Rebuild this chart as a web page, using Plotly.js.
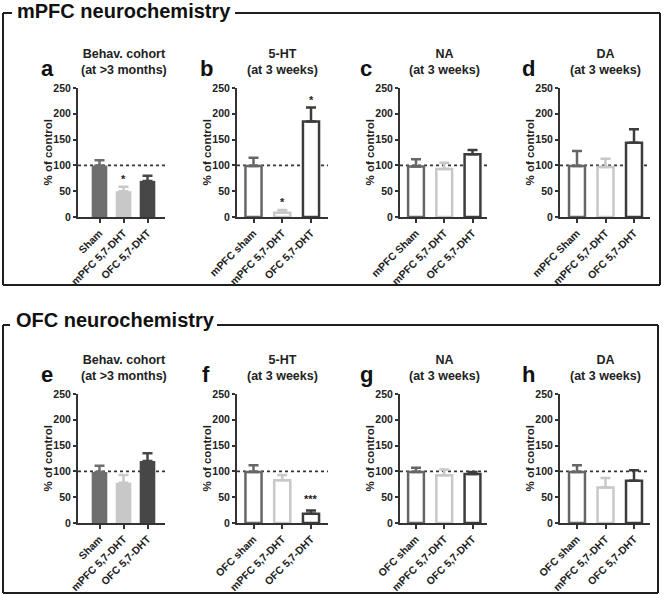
<!DOCTYPE html>
<html>
<head>
<meta charset="utf-8">
<script src="https://cdn.plot.ly/plotly-3.0.1.min.js"></script>
<style>html,body{margin:0;padding:0;background:#fff;}#chart{width:666px;height:595px;}</style>
</head>
<body>
<div id="chart"></div>
<script>
// ---------- DATA ----------
const catsBehav    = ["Sham", "mPFC 5,7-DHT", "OFC 5,7-DHT"];
const catsMpfc5ht  = ["mPFC sham", "mPFC 5,7-DHT", "OFC 5,7-DHT"];
const catsMpfcNaDa = ["mPFC Sham", "mPFC 5,7-DHT", "OFC 5,7-DHT"];
const catsOfc      = ["OFC sham", "mPFC 5,7-DHT", "OFC 5,7-DHT"];

const mpfcBehav    = [100, 50, 70];
const mpfcBehavErr = [10, 8.5, 10];
const mpfc5ht      = [99, 8, 185];
const mpfc5htErr   = [16, 5.5, 27];
const mpfcNA       = [98, 93, 121.5];
const mpfcNAErr    = [14, 12, 8.5];
const mpfcDA       = [99, 97, 144];
const mpfcDAErr    = [29, 16, 26];

const ofcBehav     = [99, 78, 120];
const ofcBehavErr  = [12, 15, 15];
const ofc5ht       = [99, 83, 18];
const ofc5htErr    = [13, 10, 6];
const ofcNA        = [99, 92.5, 95];
const ofcNAErr     = [8, 11, 4];
const ofcDA        = [99, 69, 82];
const ofcDAErr     = [13, 18, 20];

const panelLetters = ["a","b","c","d","e","f","g","h"];
const titlesTop = ["Behav. cohort", "5-HT", "NA", "DA"];
const titlesSub = ["(at &gt;3 months)", "(at 3 weeks)", "(at 3 weeks)", "(at 3 weeks)"];
const sectionTitles = ["mPFC neurochemistry", "OFC neurochemistry"];
const yTitle = "% of control";
const yTicks = [0, 50, 100, 150, 200, 250];
const refLine = 100;

// significance markers: [panel index, category index, text, value]
const sigPanel = [0, 1, 1, 5];
const sigCat   = [1, 1, 2, 2];
const sigText  = ["*", "*", "*", "***"];
const sigVal   = [79, 35, 232, 52];

// ---------- LAYOUT HELPERS ----------
const W = 666, H = 595;
const px = v => v / W;
const py = v => 1 - v / H;

const cols = [
  {x0: 78,  x1: 165, c0: 99.5,  sp: 24,    bw: 0.65},
  {x0: 237, x1: 328, c0: 253.5, sp: 28.75, bw: 0.56},
  {x0: 400, x1: 487, c0: 416,   sp: 28.25, bw: 0.56},
  {x0: 560, x1: 650, c0: 577,   sp: 28.5,  bw: 0.56}
];
const rows = [{top: 88, bot: 217}, {top: 394, bot: 523}];

const panels = [
  {cats: catsBehav,    vals: mpfcBehav, errs: mpfcBehavErr, filled: true},
  {cats: catsMpfc5ht,  vals: mpfc5ht,   errs: mpfc5htErr,   filled: false},
  {cats: catsMpfcNaDa, vals: mpfcNA,    errs: mpfcNAErr,    filled: false},
  {cats: catsMpfcNaDa, vals: mpfcDA,    errs: mpfcDAErr,    filled: false},
  {cats: catsBehav,    vals: ofcBehav,  errs: ofcBehavErr,  filled: true},
  {cats: catsOfc,      vals: ofc5ht,    errs: ofc5htErr,    filled: false},
  {cats: catsOfc,      vals: ofcNA,     errs: ofcNAErr,     filled: false},
  {cats: catsOfc,      vals: ofcDA,     errs: ofcDAErr,     filled: false}
];

const fillCols = ["#6e6e6e", "#c8c8c8", "#474747"];
const lineCols = ["#666666", "#c8c8c8", "#3c3c3c"];
const axisCol = "#333333";
const FONT = "Arial, 'Liberation Sans', Helvetica, sans-serif";

const traces = [];
const layout = {
  width: W, height: H,
  margin: {l: 0, r: 0, t: 0, b: 0},
  paper_bgcolor: "#ffffff", plot_bgcolor: "rgba(0,0,0,0)",
  showlegend: false, barmode: "overlay",
  font: {family: FONT, color: "#222"},
  shapes: [], annotations: []
};

panels.forEach((p, i) => {
  const col = cols[i % 4], row = rows[Math.floor(i / 4)];
  const n = i + 1;
  const xa = n === 1 ? "x" : "x" + n;
  const ya = n === 1 ? "y" : "y" + n;
  const xKey = n === 1 ? "xaxis" : "xaxis" + n;
  const yKey = n === 1 ? "yaxis" : "yaxis" + n;

  p.cats.forEach((c, k) => {
    traces.push({
      type: "bar", x: [c], y: [p.vals[k]], xaxis: xa, yaxis: ya,
      width: col.bw,
      marker: {
        color: p.filled ? fillCols[k] : "#ffffff",
        line: {color: p.filled ? fillCols[k] : lineCols[k], width: p.filled ? 0 : 2.5}
      },
      error_y: {type: "data", symmetric: false, array: [p.errs[k]], arrayminus: [0],
        color: p.filled ? fillCols[k] : lineCols[k], thickness: 2.5, width: 5},
      hoverinfo: "skip"
    });
  });

  layout[xKey] = {
    domain: [px(col.x0), px(col.x1)], anchor: ya, type: "category",
    categoryorder: "array", categoryarray: p.cats,
    range: [(col.x0 - col.c0) / col.sp, (col.x1 - col.c0) / col.sp],
    showline: true, linecolor: axisCol, linewidth: 2,
    ticks: "outside", ticklen: 4, tickwidth: 2, tickcolor: axisCol,
    tickangle: -45, tickfont: {size: 10.5, family: FONT, weight: "bold", color: "#222"},
    showgrid: false, zeroline: false, fixedrange: true
  };
  layout[yKey] = {
    domain: [py(row.bot), py(row.top)], anchor: xa,
    range: [0, 250], tickvals: yTicks,
    showline: true, linecolor: axisCol, linewidth: 2,
    ticks: "outside", ticklen: 3, tickwidth: 2, tickcolor: axisCol,
    tickfont: {size: 10.5, family: FONT, weight: "bold", color: "#222"},
    showgrid: false, zeroline: false, fixedrange: true
  };

  // dotted reference line at 100
  layout.shapes.push({
    type: "line", xref: xa + " domain", yref: ya, x0: 0, x1: 1, y0: refLine, y1: refLine,
    line: {color: axisCol, width: 1.6, dash: "dot"}, layer: "below"
  });

  // subplot title
  layout.annotations.push({
    xref: xa, yref: "paper", x: 1, y: py(row.top - 26),
    text: "<b>" + titlesTop[i % 4] + "<br>" + titlesSub[i % 4] + "</b>",
    showarrow: false, xanchor: "center", yanchor: "middle",
    font: {size: 12.5, family: FONT, color: "#222"}
  });
  // panel letter
  const letterX = [47, 206, 366, 528];
  layout.annotations.push({
    xref: "paper", yref: "paper", x: px(letterX[i % 4]), y: py(row.top - 20),
    text: "<b>" + panelLetters[i] + "</b>", showarrow: false,
    xanchor: "center", yanchor: "middle",
    font: {size: 22, family: FONT, color: "#111"}
  });
  // y axis title
  layout.annotations.push({
    xref: "paper", yref: "paper", x: px(col.x0 - 31), y: py((row.top + row.bot) / 2),
    text: "<b>" + yTitle + "</b>", textangle: -90, showarrow: false,
    xanchor: "center", yanchor: "middle",
    font: {size: 11.5, family: FONT, color: "#222"}
  });
});

// significance stars
sigPanel.forEach((pi, j) => {
  const n = pi + 1;
  layout.annotations.push({
    xref: n === 1 ? "x" : "x" + n, yref: n === 1 ? "y" : "y" + n,
    x: sigCat[j], y: sigVal[j], yshift: -3,
    text: "<b>" + sigText[j] + "</b>", showarrow: false,
    xanchor: "center", yanchor: "middle",
    font: {size: 11, family: FONT, color: "#222"}
  });
});

// section titles + frames
const frames = [
  {top: 13, bot: 285, left: 3, right: 660, gapL: 12, gapR: 235, ty: 11, tx: 15},
  {top: 325, bot: 593, left: 3, right: 658, gapL: 10, gapR: 217, ty: 320, tx: 14}
];
frames.forEach((f, i) => {
  const ln = (x0, y0, x1, y1) => layout.shapes.push({
    type: "line", xref: "paper", yref: "paper",
    x0: px(x0), y0: py(y0), x1: px(x1), y1: py(y1),
    line: {color: "#1e1e1e", width: 2}
  });
  ln(f.left, f.top, f.gapL, f.top);
  ln(f.gapR, f.top, f.right, f.top);
  ln(f.left, f.top, f.left, f.bot);
  ln(f.left, f.bot, f.right, f.bot);
  ln(f.right, f.top, f.right, f.bot);
  layout.annotations.push({
    xref: "paper", yref: "paper", x: px(f.tx), y: py(f.ty),
    text: "<b>" + sectionTitles[i] + "</b>", showarrow: false,
    xanchor: "left", yanchor: "middle",
    font: {size: 20, family: FONT, color: "#111"}
  });
});

Plotly.newPlot("chart", traces, layout, {staticPlot: true, displayModeBar: false});
</script>
</body>
</html>
